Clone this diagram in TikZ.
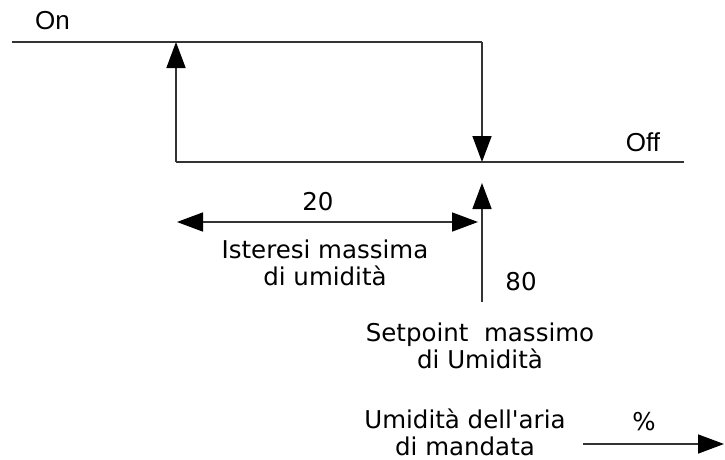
\documentclass[tikz,border=0pt]{standalone}
\usepackage{fontspec}
\newfontfamily\diagfont{DejaVu Sans}
\newfontfamily\statefont{Liberation Sans}
\usepackage{tikz}
\usetikzlibrary{arrows.meta, positioning, calc}

\begin{document}
\begin{tikzpicture}[x=1pt, y=-1pt,
    line/.style={draw=black!80, line width=1.6pt},
    tip/.style={-{Triangle[length=26pt, width=19pt, color=black]}},
    bothtips/.style={{Triangle[length=26pt, width=19pt, color=black]}-{Triangle[length=26pt, width=19pt, color=black]}},
    lbl/.style={font=\diagfont\fontsize{24.5}{27}\selectfont, align=center, anchor=base, inner sep=0pt},
    state/.style={font=\statefont\fontsize{26}{30}\selectfont, anchor=base, inner sep=0pt}]
  \useasboundingbox (0,0) rectangle (725,460);

  % hysteresis loop
  \coordinate (onstart) at (12,42);
  \coordinate (onend) at (482,42);
  \coordinate (offstart) at (176,162);
  \coordinate (offend) at (684,162);
  \coordinate (switchoff) at (482,162);
  \coordinate (switchon) at (176,42);
  \draw[line] (onstart) -- (onend);
  \draw[line] (offstart) -- (offend);
  \draw[line, tip] (offstart) -- (switchon);
  \draw[line, tip] (onend) -- (switchoff);

  \node[state] (on) at (52.5,30) {On};
  \node[state] (off) at (643,151) {Off};

  % setpoint and hysteresis
  \coordinate (spfoot) at (482,302);
  \coordinate (sptop) at (482,183);
  \coordinate (hystleft) at (177,222);
  \coordinate (hystright) at (478,222);
  \draw[line, tip] (spfoot) -- (sptop);
  \draw[line, bothtips] (hystleft) -- (hystright);

  % multi-line labels sit on the baseline of their last line
  \node[lbl] (hystval) at (318,210) {20};
  \node[lbl] (hystlabel) at (325,285) {Isteresi massima\\di umidità};
  \node[lbl] (spval) at (521,290) {80};
  \node[lbl] (splabel) at (480,368) {Setpoint\ \ massimo\\di Umidità};

  % axis
  \node[lbl] (axislabel) at (465,455) {Umidità dell'aria\\di mandata};
  \node[lbl] (unit) at (644,430) {\%};
  \coordinate (axisstart) at (583,444);
  \coordinate (axisend) at (724,444);
  \draw[line, tip] (axisstart) -- (axisend);
\end{tikzpicture}
\end{document}
